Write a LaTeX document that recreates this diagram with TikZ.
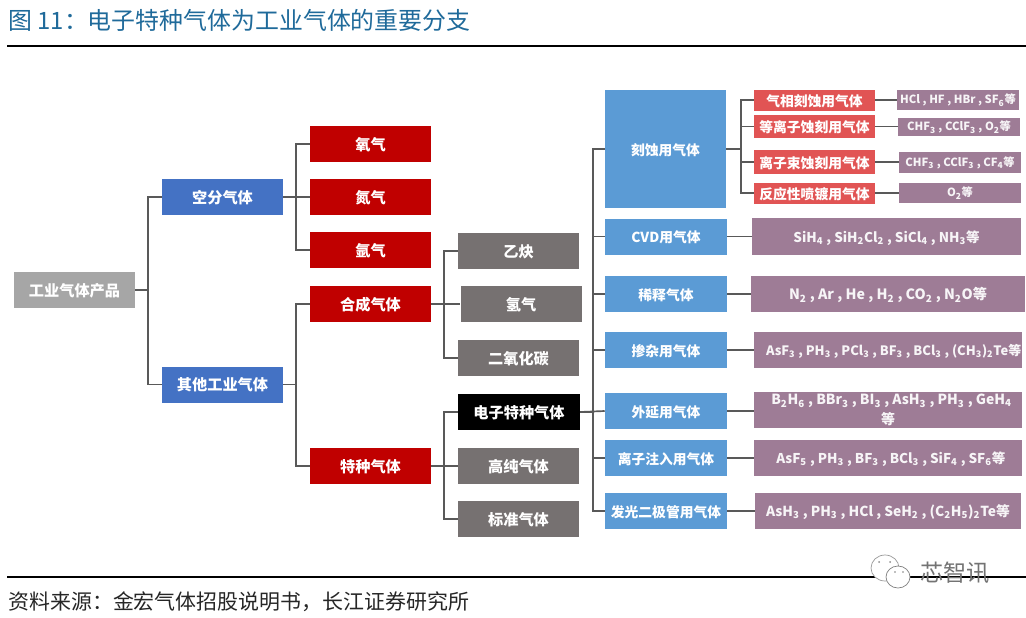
\documentclass[tikz,border=0pt]{standalone}
\usepackage{fontspec}
\setmainfont{Noto Sans CJK SC}
\newcommand{\sub}[1]{\textsubscript{#1}}
\definecolor{titleblue}{HTML}{1F6A9A}
\definecolor{rootgrey}{HTML}{A6A6A6}
\definecolor{midblue}{HTML}{4472C4}
\definecolor{darkred}{HTML}{C00000}
\definecolor{warmgrey}{HTML}{767171}
\definecolor{skyblue}{HTML}{5B9BD5}
\definecolor{softred}{HTML}{E15454}
\definecolor{mauve}{HTML}{9E7C96}
\definecolor{linegrey}{HTML}{595959}
\tikzset{
    wh/.style n args={2}{minimum width=#1*0.025cm, minimum height=#2*0.025cm},
    gasbox/.style={inner sep=0pt, text=white, align=center, text height=9.9pt, text depth=0.9pt, font=\fontsize{10.8pt}{13pt}\selectfont\bfseries},
    rootbox/.style={gasbox, fill=rootgrey, wh={121}{36}},
    groupbox/.style={gasbox, fill=midblue, wh={121}{36}},
    redbox/.style={gasbox, fill=darkred, wh={121}{36}},
    greybox/.style={gasbox, fill=warmgrey, wh={121}{36}},
    blackbox/.style={gasbox, fill=black, wh={122}{36}},
    usebox/.style={gasbox, fill=skyblue, wh={122}{36}, font=\fontsize{9.8pt}{12pt}\selectfont\bfseries},
    etchbox/.style={gasbox, fill=softred, wh={121}{21}, font=\fontsize{9.8pt}{12pt}\selectfont\bfseries},
    listbox/.style={gasbox, fill=mauve, text=white!92!mauve, text height=8.9pt, font=\fontsize{9.6pt}{13pt}\selectfont\bfseries},
    smallbox/.style={gasbox, fill=mauve, text=white!92!mauve, wh={122}{20}, text height=6.4pt, text depth=0.8pt, font=\fontsize{8pt}{9pt}\selectfont\bfseries},
    conn/.style={draw=linegrey, line width=1.2pt}
}
\begin{document}
\begin{tikzpicture}[x=0.025cm, y=-0.025cm]
    \useasboundingbox (0,0) rectangle (1026,618);

    % Title and rules
    \node[anchor=west, inner sep=0pt, text=titleblue, font=\fontsize{17pt}{19pt}\selectfont] (title) at (8,20) {图 11：电子特种气体为工业气体的重要分支};
    \coordinate (ruleAl) at (7,46);
    \coordinate (ruleAr) at (1026,46);
    \coordinate (ruleBl) at (7,577);
    \coordinate (ruleBr) at (1026,577);
    \draw[line width=1.5pt] (ruleAl) -- (ruleAr);
    \draw[line width=1.5pt] (ruleBl) -- (ruleBr);

    % First level (left)
    \node[rootbox] (root) at (74.5,290) {工业气体产品};
    \node[groupbox] (air) at (222.5,197) {空分气体};
    \node[groupbox] (other) at (222.5,384.5) {其他工业气体};

    % Second level
    \node[redbox] (oxygen) at (370.5,144) {氧气};
    \node[redbox] (nitrogen) at (370.5,197) {氮气};
    \node[redbox] (argon) at (370.5,250) {氩气};
    \node[redbox] (synth) at (370.5,304) {合成气体};
    \node[redbox] (special) at (370.5,466) {特种气体};

    % Third level
    \node[greybox] (acetylene) at (518.5,251) {乙炔};
    \node[greybox] (hydrogen) at (521,304) {氢气};
    \node[greybox] (carbon) at (518.5,358) {二氧化碳};
    \node[blackbox] (electronic) at (519,412) {电子特种气体};
    \node[greybox] (pure) at (518.5,466) {高纯气体};
    \node[greybox] (standard) at (518.5,519) {标准气体};

    % Fourth level
    \node[usebox, wh={121}{118}] (etch) at (665.5,149) {刻蚀用气体};
    \node[usebox] (cvd) at (666,236.5) {CVD用气体};
    \node[usebox] (dilute) at (666,294) {稀释气体};
    \node[usebox] (dope) at (666,350) {掺杂用气体};
    \node[usebox] (epi) at (666,411) {外延用气体};
    \node[usebox] (implant) at (666,458) {离子注入用气体};
    \node[usebox] (led) at (666,511) {发光二极管用气体};

    % Etching gases
    \node[etchbox] (vapour) at (814.5,100) {气相刻蚀用气体};
    \node[etchbox, wh={121}{23}] (plasma) at (814.5,126.5) {等离子蚀刻用气体};
    \node[etchbox, wh={121}{24}] (beam) at (814.5,162) {离子束蚀刻用气体};
    \node[etchbox] (sputter) at (814.5,193) {反应性喷镀用气体};

    % Gas lists (right)
    \node[smallbox] (vapourlist) at (958,100) {HCl , HF , HBr , SF\sub{6}等};
    \node[smallbox, wh={122}{18}] (plasmalist) at (959,127) {CHF\sub{3} , CClF\sub{3} , O\sub{2}等};
    \node[smallbox, wh={122}{21}] (beamlist) at (960,162.5) {CHF\sub{3} , CClF\sub{3} , CF\sub{4}等};
    \node[smallbox] (sputterlist) at (960,193) {O\sub{2}等};
    \node[listbox, wh={269}{37}] (cvdlist) at (886.5,236.5) {SiH\sub{4} , SiH\sub{2}Cl\sub{2} , SiCl\sub{4} , NH\sub{3}等};
    \node[listbox, wh={274}{36}, font=\fontsize{10.1pt}{13pt}\selectfont\bfseries] (dilutelist) at (888,294) {N\sub{2} , Ar , He , H\sub{2} , CO\sub{2} , N\sub{2}O等};
    \node[listbox, wh={268}{36}, font=\fontsize{9.2pt}{13pt}\selectfont\bfseries] (dopelist) at (888,350) {\hspace{8pt}AsF\sub{3} , PH\sub{3} , PCl\sub{3} , BF\sub{3} , BCl\sub{3} , (CH\sub{3})\sub{2}Te等};
    \node[listbox, wh={268}{36}, text height=, text depth=, font=\fontsize{9.9pt}{14.2pt}\selectfont\bfseries] (epilist) at (888,410) {\hspace{5pt}B\sub{2}H\sub{6} , BBr\sub{3} , BI\sub{3} , AsH\sub{3} , PH\sub{3} , GeH\sub{4}\\等};
    \node[listbox, wh={268}{36}] (implantlist) at (888,458) {\hspace{4pt}AsF\sub{5} , PH\sub{3} , BF\sub{3} , BCl\sub{3} , SiF\sub{4} , SF\sub{6}等};
    \node[listbox, wh={266}{36}, font=\fontsize{9.8pt}{13pt}\selectfont\bfseries] (ledlist) at (888,511) {AsH\sub{3} , PH\sub{3} , HCl , SeH\sub{2} , (C\sub{2}H\sub{5})\sub{2}Te等};

    % Connectors between levels
    \draw[conn] (root.east) -- ++(13,0) |- (air.west);
    \draw[conn] (root.east) -- ++(13,0) |- (other.west);
    \draw[conn] (air.east) -- ++(13,0) |- (oxygen.west);
    \draw[conn] (air.east) -- (nitrogen.west);
    \draw[conn] (air.east) -- ++(13,0) |- (argon.west);
    \draw[conn] (other.east) -- ++(13,0) |- (synth.west);
    \draw[conn] (other.east) -- ++(13,0) |- (special.west);
    \draw[conn] (synth.east) -- ++(13,0) |- (acetylene.west);
    \draw[conn] (synth.east) -- (hydrogen.west);
    \draw[conn] (synth.east) -- ++(13,0) |- (carbon.west);
    \draw[conn] (special.east) -- ++(13,0) |- (electronic.west);
    \draw[conn] (special.east) -- (pure.west);
    \draw[conn] (special.east) -- ++(13,0) |- (standard.west);

    % Trunk of the electronic gases
    \draw[conn] (electronic.east) -- ++(13,0) |- (etch.west);
    \draw[conn] (electronic.east) -- ++(13,0) |- (cvd.west);
    \draw[conn] (electronic.east) -- ++(13,0) |- (dilute.west);
    \draw[conn] (electronic.east) -- ++(13,0) |- (dope.west);
    \draw[conn] (electronic.east) -- (epi.west);
    \draw[conn] (electronic.east) -- ++(13,0) |- (implant.west);
    \draw[conn] (electronic.east) -- ++(13,0) |- (led.west);

    \draw[conn] (etch.east) -- ++(15,0) |- (vapour.west);
    \draw[conn] (etch.east) -- ++(15,0) |- (plasma.west);
    \draw[conn] (etch.east) -- ++(15,0) |- (beam.west);
    \draw[conn] (etch.east) -- ++(15,0) |- (sputter.west);

    % Straight links to the lists
    \draw[conn] (vapour.east) -- (vapourlist.west |- vapour.east);
    \draw[conn] (plasma.east) -- (plasmalist.west |- plasma.east);
    \draw[conn] (beam.east) -- (beamlist.west |- beam.east);
    \draw[conn] (sputter.east) -- (sputterlist.west |- sputter.east);
    \draw[conn] (cvd.east) -- (cvdlist.west);
    \draw[conn] (dilute.east) -- (dilutelist.west);
    \draw[conn] (dope.east) -- (dopelist.west);
    \draw[conn] (epi.east) -- (epilist.west |- epi.east);
    \draw[conn] (implant.east) -- (implantlist.west);
    \draw[conn] (led.east) -- (ledlist.west);

    % Source line
    \node[anchor=west, inner sep=0pt, font=\fontsize{14.9pt}{17pt}\selectfont, text=black!85] (source) at (8,602) {资料来源：金宏气体招股说明书，长江证券研究所};

    % Watermark
    \draw[black!40, fill=white, line width=0.5pt] (885,568) ellipse (14 and 13);
    \draw[black!50, fill=white, line width=0.5pt] (898,577) ellipse (12 and 11);
    \fill[black!45] (879,562) circle (1);
    \fill[black!45] (890,562) circle (1);
    \fill[black!50] (895,572) circle (0.9);
    \fill[black!50] (903,572) circle (0.9);
    \node[anchor=west, inner sep=0pt, text=black!55, font=\fontsize{16.5pt}{18pt}\selectfont] (mark) at (920,573) {芯智讯};
\end{tikzpicture}
\end{document}
